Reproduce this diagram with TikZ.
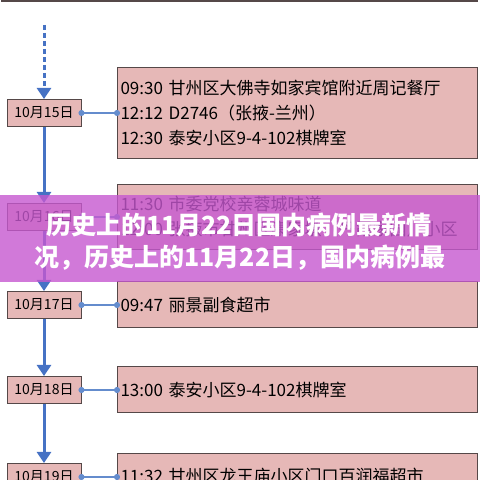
\documentclass[tikz,border=0pt]{standalone}
\usepackage{fontspec}
\newfontfamily\cjk{Noto Sans CJK SC}
\usetikzlibrary{arrows.meta}

\definecolor{boxfill}{RGB}{230,184,183}
\definecolor{boxline}{RGB}{85,72,72}
\definecolor{flow}{RGB}{70,114,196}
\definecolor{link}{RGB}{100,140,205}
\definecolor{banner}{RGB}{198,88,208}

\tikzset{
  day/.style={draw=boxline, line width=1pt, fill=boxfill, minimum width=74pt, minimum height=27pt, inner sep=0pt, font=\cjk\fontsize{14}{16}\selectfont},
  spots/.style={draw=boxline, line width=1pt, fill=boxfill, anchor=west, align=left, text width=354pt, inner xsep=3pt, inner ysep=2pt, font=\cjk\fontsize{17}{25}\selectfont},
  flowarrow/.style={draw=flow, line width=3pt, -{Triangle[width=14pt,length=11pt]}},
  linkline/.style={draw=link, line width=1.5pt, {Circle[length=6pt]}-{Circle[length=6pt]}, shorten <=-3pt, shorten >=-3pt},
  title/.style={text=white, font=\cjk\bfseries\fontsize{25}{30}\selectfont}
}

\begin{document}
\begin{tikzpicture}[x=1pt, y=1pt]
\useasboundingbox (0,0) rectangle (480,480);
\clip (0,0) rectangle (480,480);

\draw[boxline, line width=1.5pt] (1,479) -- (478,479);

\node[day] (d15) at (44,367) {10月15日};
\node[day] (d16) at (44,263) {10月16日};
\node[day] (d17) at (44,175) {10月17日};
\node[day] (d18) at (44,90) {10月18日};
\node[day] (d19) at (44,3) {10月19日};

\node[spots, minimum height=91pt] (b15) at (117,367) {09:30 甘州区大佛寺如家宾馆附近周记餐厅\\12:12 D2746（张掖-兰州）\\12:30 泰安小区9-4-102棋牌室};
\node[spots, minimum height=65pt] (b16) at (117,263) {11:30 市委党校亲蓉城味道\\12:00 张掖市甘州区康家墩（丹霞家园）小区};
\node[spots, minimum height=46pt] (b17) at (117,175) {09:47 丽景副食超市};
\node[spots, minimum height=46pt] (b18) at (117,90) {13:00 泰安小区9-4-102棋牌室};
\node[spots, anchor=north west, minimum height=70pt] (b19) at (117,27) {11:32 甘州区龙王庙小区门口百润福超市\\15:00 泰安小区9-4-102棋牌室};

\coordinate (start) at (44,455);
\draw[flowarrow, dash pattern=on 5pt off 3pt] (start) -- (d15);
\foreach \a/\b in {d15/d16, d16/d17, d17/d18, d18/d19}
  \draw[flowarrow] (\a) -- (\b);

\draw[linkline] (d15.east) -- (b15.west);
\draw[linkline] (d16.east) -- (b16.west);
\draw[linkline] (d17.east) -- (b17.west);
\draw[linkline] (d18.east) -- (b18.west);
\draw[linkline] (d19.east) -- (d19.east -| b19.west);

% overlay banner
\fill[banner, opacity=0.8] (0,198) rectangle (480,285);
\node[title] (t1) at (239,255) {历史上的11月22日国内病例最新情};
\node[title] (t2) at (240,222) {况，历史上的11月22日，国内病例最};

\end{tikzpicture}
\end{document}
